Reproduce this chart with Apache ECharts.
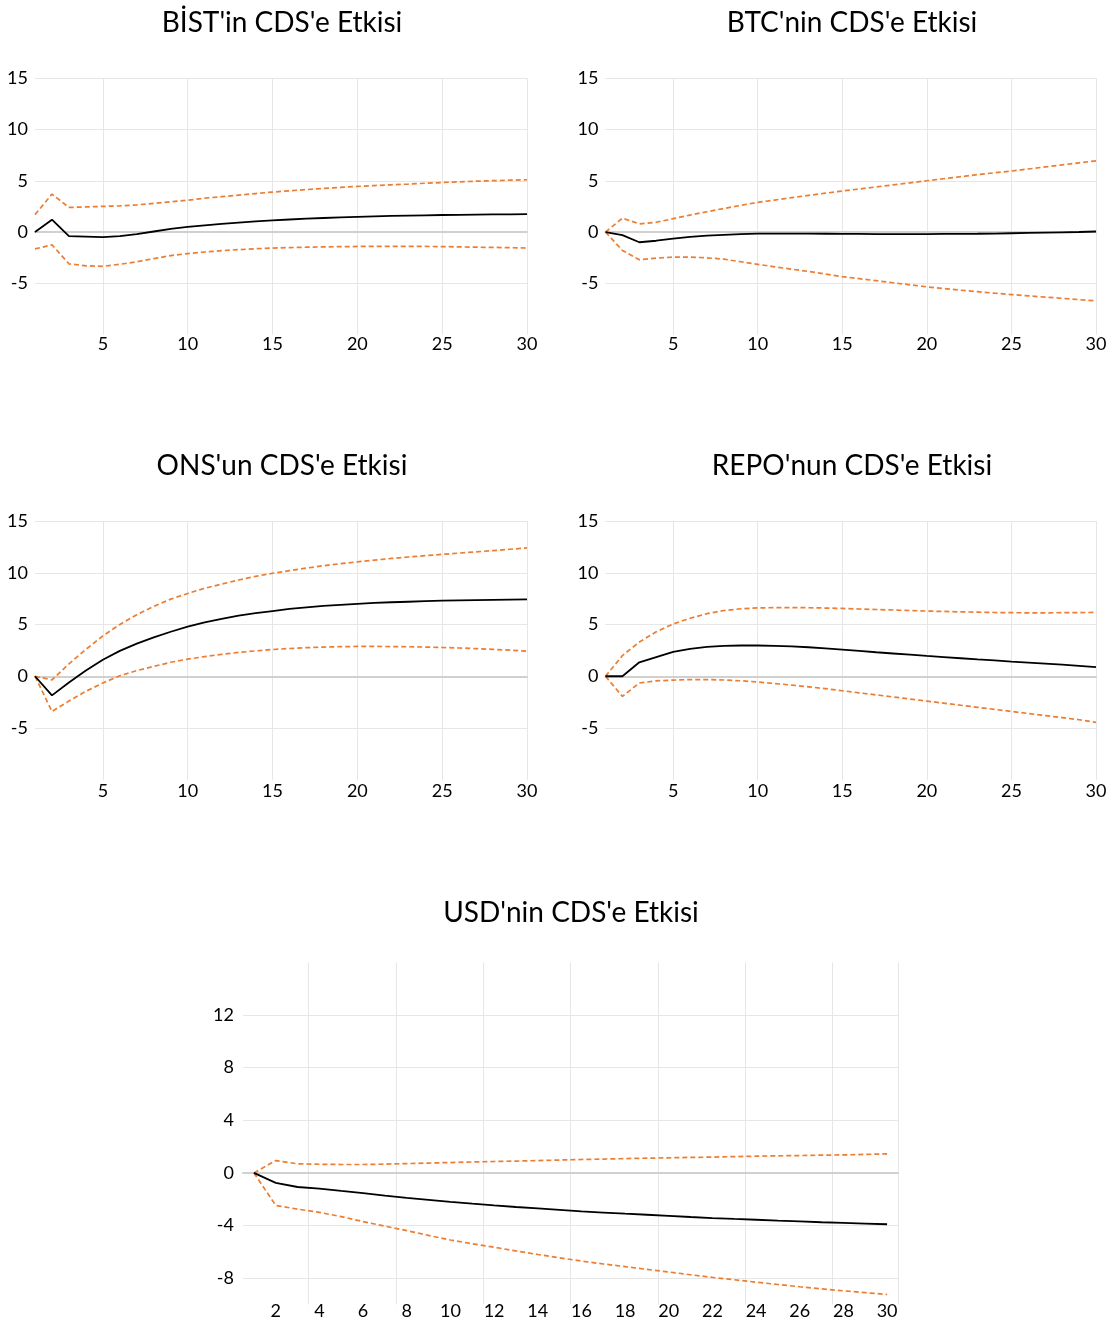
<!DOCTYPE html>
<html>
<head>
<meta charset="utf-8">
<script src="https://cdn.jsdelivr.net/npm/echarts@6/dist/echarts.min.js"></script>
<style>
  html, body { margin: 0; padding: 0; background: #ffffff; }
  #chart { width: 1116px; height: 1323px; }
</style>
</head>
<body>
<div id="chart"></div>
<script>
// ---------- DATA ----------
const periods = ['1','2','3','4','5','6','7','8','9','10','11','12','13','14','15','16','17','18','19','20','21','22','23','24','25','26','27','28','29','30'];

const titles = ["BİST'in CDS'e Etkisi", "BTC'nin CDS'e Etkisi", "ONS'un CDS'e Etkisi", "REPO'nun CDS'e Etkisi", "USD'nin CDS'e Etkisi"];

// BİST
const bistResp  = [0, 1.2, -0.4, -0.45, -0.5, -0.4, -0.2, 0.05, 0.3, 0.5, 0.65, 0.8, 0.92, 1.03, 1.13, 1.22, 1.3, 1.37, 1.43, 1.48, 1.53, 1.57, 1.6, 1.63, 1.66, 1.68, 1.7, 1.72, 1.73, 1.74];
const bistUpper = [1.7, 3.7, 2.4, 2.45, 2.5, 2.55, 2.65, 2.8, 2.95, 3.1, 3.3, 3.45, 3.6, 3.75, 3.9, 4.02, 4.14, 4.25, 4.36, 4.45, 4.53, 4.61, 4.68, 4.76, 4.83, 4.9, 4.96, 5.01, 5.06, 5.1];
const bistLower = [-1.65, -1.25, -3.1, -3.3, -3.35, -3.15, -2.9, -2.6, -2.3, -2.1, -1.95, -1.82, -1.72, -1.63, -1.57, -1.52, -1.48, -1.45, -1.43, -1.41, -1.4, -1.4, -1.4, -1.41, -1.42, -1.45, -1.48, -1.5, -1.53, -1.56];

// BTC
const btcResp  = [0, -0.3, -1.0, -0.85, -0.65, -0.48, -0.36, -0.27, -0.2, -0.16, -0.15, -0.15, -0.16, -0.17, -0.18, -0.19, -0.2, -0.2, -0.2, -0.2, -0.19, -0.18, -0.17, -0.15, -0.12, -0.09, -0.06, -0.03, 0.0, 0.05];
const btcUpper = [0, 1.35, 0.8, 0.95, 1.3, 1.65, 1.98, 2.3, 2.6, 2.9, 3.12, 3.35, 3.57, 3.79, 4.0, 4.2, 4.4, 4.6, 4.8, 5.0, 5.2, 5.4, 5.6, 5.78, 5.95, 6.15, 6.35, 6.55, 6.75, 6.95];
const btcLower = [0, -1.8, -2.7, -2.55, -2.45, -2.45, -2.52, -2.65, -2.9, -3.15, -3.4, -3.62, -3.85, -4.1, -4.35, -4.55, -4.75, -4.95, -5.15, -5.35, -5.52, -5.68, -5.82, -5.97, -6.1, -6.23, -6.35, -6.47, -6.6, -6.72];

// ONS
const onsResp  = [0, -1.85, -0.6, 0.55, 1.6, 2.45, 3.15, 3.75, 4.3, 4.8, 5.2, 5.55, 5.85, 6.1, 6.3, 6.5, 6.65, 6.8, 6.9, 7.0, 7.08, 7.15, 7.2, 7.25, 7.3, 7.33, 7.36, 7.38, 7.4, 7.42];
const onsUpper = [0, -0.35, 1.2, 2.6, 3.9, 5.0, 5.95, 6.75, 7.45, 8.0, 8.5, 8.9, 9.3, 9.65, 9.95, 10.2, 10.45, 10.68, 10.88, 11.05, 11.22, 11.38, 11.52, 11.65, 11.78, 11.9, 12.02, 12.14, 12.27, 12.4];
const onsLower = [0, -3.4, -2.4, -1.45, -0.65, 0.05, 0.55, 0.95, 1.35, 1.65, 1.9, 2.12, 2.3, 2.45, 2.58, 2.68, 2.76, 2.82, 2.86, 2.88, 2.88, 2.87, 2.85, 2.82, 2.78, 2.73, 2.67, 2.6, 2.52, 2.43];

// REPO
const repoResp  = [0, 0, 1.35, 1.85, 2.35, 2.65, 2.83, 2.93, 2.97, 2.97, 2.94, 2.88, 2.8, 2.7, 2.58, 2.45, 2.32, 2.2, 2.08, 1.96, 1.85, 1.74, 1.63, 1.53, 1.42, 1.32, 1.22, 1.12, 1.0, 0.88];
const repoUpper = [0, 2.0, 3.3, 4.3, 5.05, 5.6, 6.05, 6.35, 6.52, 6.6, 6.63, 6.63, 6.62, 6.59, 6.55, 6.5, 6.45, 6.4, 6.35, 6.3, 6.26, 6.22, 6.19, 6.16, 6.14, 6.13, 6.13, 6.14, 6.15, 6.17];
const repoLower = [0, -1.95, -0.65, -0.45, -0.37, -0.32, -0.32, -0.36, -0.44, -0.55, -0.7, -0.85, -1.02, -1.2, -1.4, -1.6, -1.8, -2.0, -2.2, -2.4, -2.6, -2.8, -3.0, -3.2, -3.4, -3.6, -3.8, -4.0, -4.2, -4.45];

// USD
const usdResp  = [0, -0.76, -1.07, -1.2, -1.37, -1.53, -1.72, -1.9, -2.05, -2.2, -2.34, -2.47, -2.59, -2.7, -2.81, -2.92, -3.01, -3.1, -3.18, -3.26, -3.35, -3.43, -3.5, -3.56, -3.63, -3.69, -3.75, -3.8, -3.85, -3.9];
const usdUpper = [0, 0.94, 0.69, 0.66, 0.64, 0.64, 0.67, 0.71, 0.75, 0.79, 0.83, 0.87, 0.9, 0.94, 0.98, 1.02, 1.05, 1.09, 1.12, 1.15, 1.18, 1.2, 1.24, 1.27, 1.3, 1.32, 1.35, 1.37, 1.41, 1.45];
const usdLower = [0, -2.47, -2.75, -3.0, -3.32, -3.7, -4.05, -4.38, -4.75, -5.1, -5.38, -5.65, -5.93, -6.2, -6.45, -6.7, -6.92, -7.12, -7.33, -7.53, -7.74, -7.94, -8.12, -8.3, -8.48, -8.65, -8.81, -8.96, -9.1, -9.24];

// y tick labels shown
const yTicksTop = [-5, 0, 5, 10, 15];
const yTicksUsd = [-8, -4, 0, 4, 8, 12];

// ---------- LAYOUT / STYLE ----------
const FONT = 'Lato';
const ORANGE = '#ED7D31';
const GRID_C = '#e6e6e6';
const ZERO_C = '#d0d0d0';
const CLEAR = 'rgba(0,0,0,0)';

const panels = [
  { title: titles[0], resp: bistResp, up: bistUpper, lo: bistLower,
    grid: { left: 35, top: 78.3, width: 492, height: 256.2 }, titleX: 277, titleY: 4, labelMargin: 1, usd: false },
  { title: titles[1], resp: btcResp, up: btcUpper, lo: btcLower,
    grid: { left: 605.5, top: 78.3, width: 490.5, height: 256.2 }, titleX: 847, titleY: 4, labelMargin: 1, usd: false },
  { title: titles[2], resp: onsResp, up: onsUpper, lo: onsLower,
    grid: { left: 35, top: 521, width: 492, height: 258.75 }, titleX: 277, titleY: 447, labelMargin: 2, usd: false },
  { title: titles[3], resp: repoResp, up: repoUpper, lo: repoLower,
    grid: { left: 605.5, top: 521, width: 490.5, height: 258.75 }, titleX: 847, titleY: 447, labelMargin: 2, usd: false },
  { title: titles[4], resp: usdResp, up: usdUpper, lo: usdLower,
    grid: { left: 243, top: 962.4, width: 655, height: 342.1 }, titleX: 566, titleY: 894, labelMargin: -2, usd: true }
];

const option = {
  animation: false,
  backgroundColor: '#ffffff',
  textStyle: { fontFamily: FONT },
  title: [], grid: [], xAxis: [], yAxis: [], series: []
};

panels.forEach((p, i) => {
  option.title.push({
    text: p.title, left: p.titleX, top: p.titleY, textAlign: 'center',
    textStyle: { fontFamily: FONT, fontSize: 28, fontWeight: 'normal', color: '#000' }
  });
  option.grid.push(Object.assign({ containLabel: false }, p.grid));

  // main x axis (labels + vertical grid lines)
  const xMain = {
    type: 'category', gridIndex: i, data: periods, position: 'bottom',
    boundaryGap: p.usd,
    axisLine: { show: false, onZero: false },
    axisTick: { show: false },
    axisLabel: {
      fontFamily: FONT, fontSize: 18, color: '#000', margin: p.labelMargin,
      interval: p.usd ? ((idx) => idx % 2 === 1) : ((idx) => (idx + 1) % 5 === 0)
    },
    splitLine: {
      show: true,
      interval: p.usd ? ((idx) => idx % 4 === 3) : ((idx) => (idx + 1) % 5 === 0),
      lineStyle: { color: GRID_C, width: 1 }
    }
  };
  // zero line axis
  const xZero = {
    type: 'category', gridIndex: i, data: periods, position: 'bottom',
    boundaryGap: p.usd,
    axisLine: { show: true, onZero: true, lineStyle: { color: ZERO_C, width: 2 } },
    axisTick: { show: false }, axisLabel: { show: false }, splitLine: { show: false }
  };
  option.xAxis.push(xMain, xZero);

  if (!p.usd) {
    option.yAxis.push({
      type: 'value', gridIndex: i, min: -10, max: 15, interval: 5,
      axisLine: { show: false }, axisTick: { show: false },
      axisLabel: {
        fontFamily: FONT, fontSize: 18, color: '#000', margin: 7,
        formatter: (v) => yTicksTop.indexOf(v) >= 0 ? String(v) : ''
      },
      splitLine: { show: true, lineStyle: { color: [CLEAR, GRID_C, GRID_C, GRID_C, GRID_C, GRID_C], width: 1 } }
    });
  } else {
    const cols = [];
    for (let v = -10; v <= 16; v += 2) cols.push(yTicksUsd.indexOf(v) >= 0 ? GRID_C : CLEAR);
    option.yAxis.push({
      type: 'value', gridIndex: i, min: -10, max: 16, interval: 2,
      axisLine: { show: false }, axisTick: { show: false },
      axisLabel: {
        fontFamily: FONT, fontSize: 18, color: '#000', margin: 9,
        formatter: (v) => yTicksUsd.indexOf(v) >= 0 ? String(v) : ''
      },
      splitLine: { show: true, lineStyle: { color: cols, width: 1 } }
    });
  }

  const xIdx = i * 2;
  const common = { type: 'line', xAxisIndex: xIdx, yAxisIndex: i, symbol: 'none', silent: true, z: 3 };
  option.series.push(
    Object.assign({}, common, { name: 'upper' + i, data: p.up,
      lineStyle: { color: ORANGE, width: 1.7, type: [5, 3] } }),
    Object.assign({}, common, { name: 'lower' + i, data: p.lo,
      lineStyle: { color: ORANGE, width: 1.7, type: [5, 3] } }),
    Object.assign({}, common, { name: 'resp' + i, data: p.resp,
      lineStyle: { color: '#000000', width: 1.8 } })
  );
});

const chart = echarts.init(document.getElementById('chart'), null, { renderer: 'canvas' });
chart.setOption(option);
</script>
</body>
</html>
